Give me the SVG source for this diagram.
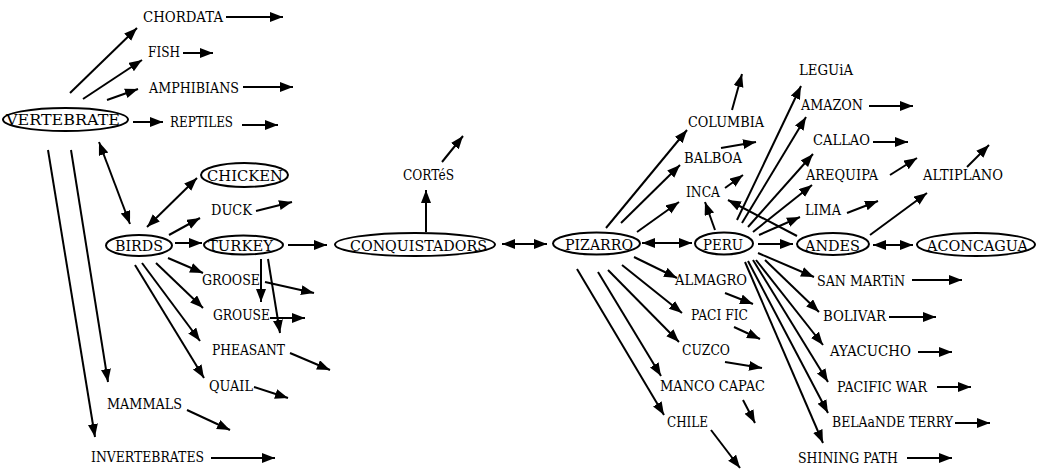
<svg xmlns="http://www.w3.org/2000/svg" width="1037" height="470" viewBox="0 0 1037 470">
  <defs>
    <marker id="head" markerUnits="userSpaceOnUse" markerWidth="15" markerHeight="11" refX="13" refY="5" orient="auto-start-reverse">
      <path d="M0,0 L13,5 L0,10 z" fill="#000"/>
    </marker>
    <style>
      text { font-family: 'DejaVu Serif', 'Liberation Serif', serif; font-size: 14px; fill: #000; }
      ellipse { fill: #fff; stroke: #000; stroke-width: 2; }
      .c line { stroke: #000; stroke-width: 2; marker-end: url(#head); }
      .c line.both { marker-start: url(#head); }
    </style>
  </defs>
  <rect width="1037" height="470" fill="#fff"/>

  <!-- connectors -->
  <g id="connectors" class="c">
    <line x1="70" y1="93" x2="137" y2="28"/>
    <line x1="83" y1="99" x2="142" y2="60"/>
    <line x1="107" y1="100" x2="138" y2="89"/>
    <line x1="133" y1="122" x2="163" y2="122"/>
    <line x1="226" y1="17" x2="283" y2="17"/>
    <line x1="183" y1="53" x2="213" y2="53"/>
    <line x1="243" y1="87" x2="293" y2="87"/>
    <line x1="242" y1="125" x2="278" y2="125"/>
    <line x1="48" y1="150" x2="95" y2="437"/>
    <line x1="71" y1="150" x2="108" y2="382"/>
    <line class="both" x1="99" y1="142" x2="130" y2="224"/>
    <line class="both" x1="147" y1="227" x2="197" y2="178"/>
    <line x1="169" y1="235" x2="200" y2="218"/>
    <line x1="256" y1="211" x2="292" y2="202"/>
    <line x1="175" y1="243" x2="202" y2="243"/>
    <line x1="288" y1="245" x2="327" y2="245"/>
    <line x1="168" y1="258" x2="203" y2="273"/>
    <line x1="156" y1="263" x2="203" y2="308"/>
    <line x1="142" y1="263" x2="200" y2="341"/>
    <line x1="135" y1="265" x2="204" y2="378"/>
    <line x1="261" y1="259" x2="261" y2="302"/>
    <line x1="268" y1="259" x2="280" y2="333"/>
    <line x1="265" y1="282" x2="314" y2="293"/>
    <line x1="270" y1="318" x2="305" y2="318"/>
    <line x1="290" y1="353" x2="330" y2="370"/>
    <line x1="254" y1="387" x2="288" y2="398"/>
    <line x1="187" y1="410" x2="230" y2="430"/>
    <line x1="211" y1="458" x2="275" y2="458"/>
    <line x1="426" y1="232" x2="426" y2="190"/>
    <line x1="442" y1="162" x2="463" y2="136"/>
    <line class="both" x1="502" y1="244" x2="547" y2="244"/>
    <line class="both" x1="642" y1="243" x2="692" y2="243"/>
    <line x1="758" y1="244" x2="793" y2="244"/>
    <line class="both" x1="873" y1="245" x2="913" y2="245"/>
    <line x1="870" y1="235" x2="927" y2="193"/>
    <line x1="967" y1="167" x2="989" y2="145"/>
    <line x1="847" y1="213" x2="878" y2="201"/>
    <line x1="890" y1="175" x2="917" y2="158"/>
    <line x1="873" y1="142" x2="908" y2="142"/>
    <line x1="869" y1="106" x2="913" y2="106"/>
    <line x1="737" y1="220" x2="801" y2="86"/>
    <line x1="742" y1="223" x2="806" y2="117"/>
    <line x1="748" y1="227" x2="813" y2="154"/>
    <line x1="753" y1="232" x2="812" y2="185"/>
    <line x1="759" y1="235" x2="800" y2="217"/>
    <line x1="715" y1="230" x2="705" y2="202"/>
    <line x1="797" y1="236" x2="728" y2="200"/>
    <line x1="725" y1="188" x2="743" y2="175"/>
    <line x1="721" y1="148" x2="756" y2="142"/>
    <line x1="732" y1="110" x2="742" y2="74"/>
    <line x1="606" y1="228" x2="687" y2="130"/>
    <line x1="621" y1="223" x2="680" y2="165"/>
    <line x1="637" y1="232" x2="679" y2="202"/>
    <line x1="634" y1="257" x2="677" y2="278"/>
    <line x1="725" y1="293" x2="753" y2="304"/>
    <line x1="622" y1="265" x2="682" y2="313"/>
    <line x1="734" y1="327" x2="760" y2="339"/>
    <line x1="608" y1="270" x2="679" y2="342"/>
    <line x1="725" y1="362" x2="762" y2="368"/>
    <line x1="598" y1="272" x2="661" y2="376"/>
    <line x1="743" y1="400" x2="755" y2="423"/>
    <line x1="577" y1="269" x2="664" y2="415"/>
    <line x1="711" y1="430" x2="740" y2="468"/>
    <line x1="758" y1="253" x2="814" y2="277"/>
    <line x1="912" y1="280" x2="962" y2="280"/>
    <line x1="765" y1="260" x2="819" y2="312"/>
    <line x1="889" y1="317" x2="936" y2="317"/>
    <line x1="756" y1="260" x2="823" y2="345"/>
    <line x1="918" y1="352" x2="952" y2="352"/>
    <line x1="753" y1="260" x2="828" y2="382"/>
    <line x1="937" y1="387" x2="971" y2="387"/>
    <line x1="748" y1="261" x2="828" y2="413"/>
    <line x1="955" y1="423" x2="990" y2="423"/>
    <line x1="745" y1="262" x2="823" y2="443"/>
    <line x1="907" y1="458" x2="952" y2="458"/>
  </g>

  <!-- circled nodes -->
  <g id="vertebrate"><ellipse cx="65.5" cy="119.5" rx="62.5" ry="11.5"/><text x="6" y="125" textLength="114" lengthAdjust="spacingAndGlyphs">VERTEBRATE</text></g>
  <g id="birds"><ellipse cx="139" cy="245.5" rx="33" ry="10.5"/><text x="115" y="251" textLength="48" lengthAdjust="spacingAndGlyphs">BIRDS</text></g>
  <g id="chicken"><ellipse cx="244.5" cy="175" rx="43.5" ry="12"/><text x="207" y="181" textLength="76" lengthAdjust="spacingAndGlyphs">CHICKEN</text></g>
  <g id="turkey"><ellipse cx="243.5" cy="245" rx="39.5" ry="9.5"/><text x="208" y="251" textLength="65" lengthAdjust="spacingAndGlyphs">TURKEY</text></g>
  <g id="conquistadors"><ellipse cx="415" cy="244.5" rx="80" ry="11.5"/><text x="350" y="251" textLength="137" lengthAdjust="spacingAndGlyphs">CONQUISTADORS</text></g>
  <g id="pizarro"><ellipse cx="596.5" cy="243.5" rx="43.5" ry="11"/><text x="565" y="250" textLength="68" lengthAdjust="spacingAndGlyphs">PIZARRO</text></g>
  <g id="peru"><ellipse cx="724" cy="243.5" rx="29" ry="11"/><text x="703" y="250" textLength="40" lengthAdjust="spacingAndGlyphs">PERU</text></g>
  <g id="andes"><ellipse cx="833" cy="244" rx="36" ry="11"/><text x="805" y="251" textLength="55" lengthAdjust="spacingAndGlyphs">ANDES</text></g>
  <g id="aconcagua"><ellipse cx="976" cy="244.5" rx="59" ry="11.5"/><text x="927" y="251" textLength="101" lengthAdjust="spacingAndGlyphs">ACONCAGUA</text></g>

  <!-- plain label nodes -->
  <g id="chordata"><text x="143" y="22" textLength="80" lengthAdjust="spacingAndGlyphs">CHORDATA</text></g>
  <g id="fish"><text x="148" y="57" textLength="32" lengthAdjust="spacingAndGlyphs">FISH</text></g>
  <g id="amphibians"><text x="149" y="93" textLength="90" lengthAdjust="spacingAndGlyphs">AMPHIBIANS</text></g>
  <g id="reptiles"><text x="170" y="127" textLength="63" lengthAdjust="spacingAndGlyphs">REPTILES</text></g>
  <g id="duck"><text x="211" y="215" textLength="41" lengthAdjust="spacingAndGlyphs">DUCK</text></g>
  <g id="groose"><text x="202" y="285" textLength="58" lengthAdjust="spacingAndGlyphs">GROOSE</text></g>
  <g id="grouse"><text x="213" y="320" textLength="57" lengthAdjust="spacingAndGlyphs">GROUSE</text></g>
  <g id="pheasant"><text x="212" y="355" textLength="73" lengthAdjust="spacingAndGlyphs">PHEASANT</text></g>
  <g id="quail"><text x="209" y="391" textLength="44" lengthAdjust="spacingAndGlyphs">QUAIL</text></g>
  <g id="mammals"><text x="107" y="409" textLength="75" lengthAdjust="spacingAndGlyphs">MAMMALS</text></g>
  <g id="invertebrates"><text x="91" y="462" textLength="113" lengthAdjust="spacingAndGlyphs">INVERTEBRATES</text></g>
  <g id="cortes"><text x="403" y="180" textLength="51" lengthAdjust="spacingAndGlyphs">CORTéS</text></g>
  <g id="columbia"><text x="688" y="127" textLength="76" lengthAdjust="spacingAndGlyphs">COLUMBIA</text></g>
  <g id="balboa"><text x="684" y="163" textLength="58" lengthAdjust="spacingAndGlyphs">BALBOA</text></g>
  <g id="inca"><text x="686" y="197" textLength="34" lengthAdjust="spacingAndGlyphs">INCA</text></g>
  <g id="leguia"><text x="799" y="75" textLength="54" lengthAdjust="spacingAndGlyphs">LEGUiA</text></g>
  <g id="amazon"><text x="801" y="110" textLength="62" lengthAdjust="spacingAndGlyphs">AMAZON</text></g>
  <g id="callao"><text x="813" y="145" textLength="57" lengthAdjust="spacingAndGlyphs">CALLAO</text></g>
  <g id="arequipa"><text x="806" y="180" textLength="72" lengthAdjust="spacingAndGlyphs">AREQUIPA</text></g>
  <g id="lima"><text x="805" y="215" textLength="36" lengthAdjust="spacingAndGlyphs">LIMA</text></g>
  <g id="altiplano"><text x="923" y="180" textLength="80" lengthAdjust="spacingAndGlyphs">ALTIPLANO</text></g>
  <g id="almagro"><text x="675" y="285" textLength="72" lengthAdjust="spacingAndGlyphs">ALMAGRO</text></g>
  <g id="pacific"><text x="691" y="320" textLength="57" lengthAdjust="spacingAndGlyphs">PACI FIC</text></g>
  <g id="cuzco"><text x="682" y="355" textLength="48" lengthAdjust="spacingAndGlyphs">CUZCO</text></g>
  <g id="manco-capac"><text x="660" y="391" textLength="105" lengthAdjust="spacingAndGlyphs">MANCO CAPAC</text></g>
  <g id="chile"><text x="667" y="427" textLength="41" lengthAdjust="spacingAndGlyphs">CHILE</text></g>
  <g id="san-martin"><text x="817" y="286" textLength="88" lengthAdjust="spacingAndGlyphs">SAN MARTiN</text></g>
  <g id="bolivar"><text x="823" y="321" textLength="63" lengthAdjust="spacingAndGlyphs">BOLIVAR</text></g>
  <g id="ayacucho"><text x="830" y="356" textLength="81" lengthAdjust="spacingAndGlyphs">AYACUCHO</text></g>
  <g id="pacific-war"><text x="837" y="392" textLength="90" lengthAdjust="spacingAndGlyphs">PACIFIC WAR</text></g>
  <g id="belaunde-terry"><text x="832" y="427" textLength="121" lengthAdjust="spacingAndGlyphs">BELAaNDE TERRY</text></g>
  <g id="shining-path"><text x="798" y="463" textLength="100" lengthAdjust="spacingAndGlyphs">SHINING PATH</text></g>
</svg>
